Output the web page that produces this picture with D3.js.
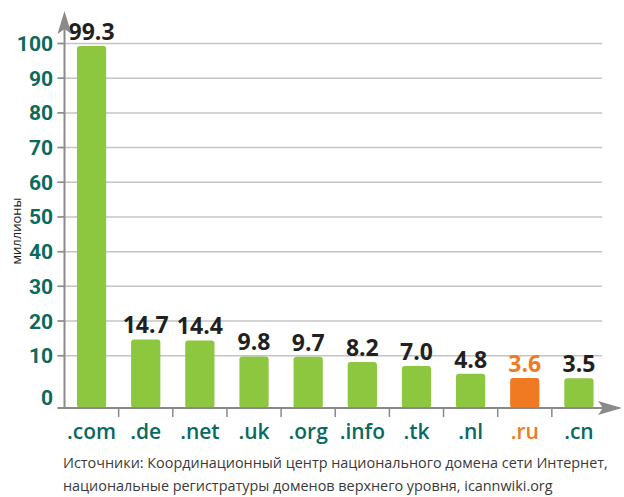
<!DOCTYPE html>
<html>
<head>
<meta charset="utf-8">
<script src="https://cdn.jsdelivr.net/npm/d3@7"></script>
<style>
  body { margin: 0; background: #fff; }
  svg { display: block; }
</style>
</head>
<body>
<div id="chart"></div>
<script>
// data
var domains = [".com", ".de", ".net", ".uk", ".org", ".info", ".tk", ".nl", ".ru", ".cn"];
var values = [99.3, 14.7, 14.4, 9.8, 9.7, 8.2, 7.0, 4.8, 3.6, 3.5];
var yTicks = [0, 10, 20, 30, 40, 50, 60, 70, 80, 90, 100];
var highlight = ".ru";
var yTitle = "миллионы";
var sourceLines = [
  "Источники: Координационный центр национального домена сети Интернет,",
  "национальные регистратуры доменов верхнего уровня, icannwiki.org"
];

var width = 624, height = 497;
var axisX = 64.5, axisY = 408;

var green = "#8dc63f", orange = "#f07a22", teal = "#0b6a5e", grey = "#8a8a8a";

var svg = d3.select("#chart")
  .append("svg")
  .attr("width", width)
  .attr("height", height);

var x = d3.scaleBand()
  .domain(domains)
  .range([axisX, 606])
  .paddingInner(0.46)
  .paddingOuter(0.23);

var y = d3.scaleLinear()
  .domain([0, 100])
  .range([390.4, 43.5]);

// gridlines (no line at 0)
svg.append("g")
  .selectAll("line")
  .data(yTicks.filter(function (d) { return d > 0; }))
  .enter()
  .append("line")
  .attr("x1", axisX - 7)
  .attr("x2", 602)
  .attr("y1", function (d) { return y(d); })
  .attr("y2", function (d) { return y(d); })
  .attr("stroke", "#c4c4c4")
  .attr("stroke-width", 1.5);

// grid tick stubs left of axis, darker
svg.append("g")
  .selectAll("line")
  .data(yTicks.filter(function (d) { return d > 0; }))
  .enter()
  .append("line")
  .attr("x1", axisX - 7)
  .attr("x2", axisX)
  .attr("y1", function (d) { return y(d); })
  .attr("y2", function (d) { return y(d); })
  .attr("stroke", grey)
  .attr("stroke-width", 1.5);

// y tick labels
svg.append("g")
  .selectAll("text")
  .data(yTicks)
  .enter()
  .append("text")
  .attr("x", 53)
  .attr("y", function (d) { return d == 0 ? 405 : y(d) + 7.5; })
  .attr("text-anchor", "end")
  .style("font-family", "Roboto, 'Open Sans', sans-serif")
  .style("font-weight", "bold")
  .style("font-size", "21px")
  .style("fill", teal)
  .text(function (d) { return d; });

// bars go down to the axis line
svg.append("g")
  .selectAll("rect")
  .data(values)
  .enter()
  .append("rect")
  .attr("x", function (d, i) { return x(domains[i]); })
  .attr("width", x.bandwidth())
  .attr("y", function (d) { return y(d); })
  .attr("height", function (d) { return axisY - y(d); })
  .attr("rx", 3)
  .attr("fill", function (d, i) { return domains[i] == highlight ? orange : green; });

// value labels
svg.append("g")
  .selectAll("text")
  .data(values)
  .enter()
  .append("text")
  .attr("x", function (d, i) { return x(domains[i]) + x.bandwidth() / 2; })
  .attr("y", function (d) { return y(d) - 6; })
  .attr("text-anchor", "middle")
  .style("font-family", "'Open Sans', Roboto, sans-serif")
  .style("font-weight", "bold")
  .style("font-size", "23px")
  .style("fill", function (d, i) { return domains[i] == highlight ? orange : "#231f20"; })
  .text(function (d) { return d.toFixed(1); });

// x axis line + arrow
svg.append("line")
  .attr("x1", axisX - 7).attr("x2", 604)
  .attr("y1", axisY).attr("y2", axisY)
  .attr("stroke", grey).attr("stroke-width", 2);
svg.append("path")
  .attr("d", "M598," + (axisY - 7) + " L622," + axisY + " L598," + (axisY + 7) + " L603," + axisY + " Z")
  .attr("fill", grey);

// tick marks between bars
svg.append("g")
  .selectAll("line")
  .data(domains.slice(1))
  .enter()
  .append("line")
  .attr("x1", function (d) { return x(d) - x.step() * x.paddingInner() / 2; })
  .attr("x2", function (d) { return x(d) - x.step() * x.paddingInner() / 2; })
  .attr("y1", axisY)
  .attr("y2", axisY + 9)
  .attr("stroke", grey)
  .attr("stroke-width", 1.5);

// y axis line + arrow
svg.append("line")
  .attr("x1", axisX).attr("x2", axisX)
  .attr("y1", axisY).attr("y2", 28)
  .attr("stroke", grey).attr("stroke-width", 2);
svg.append("path")
  .attr("d", "M" + (axisX - 7) + ",34 L" + axisX + ",11 L" + (axisX + 7) + ",34 L" + axisX + ",29 Z")
  .attr("fill", grey);

// category labels
svg.append("g")
  .selectAll("text")
  .data(domains)
  .enter()
  .append("text")
  .attr("x", function (d) { return x(d) + x.bandwidth() / 2; })
  .attr("y", 439)
  .attr("text-anchor", "middle")
  .style("font-family", "'Open Sans', Roboto, sans-serif")
  .style("font-weight", "600")
  .style("font-size", "21px")
  .style("fill", function (d) { return d == highlight ? orange : teal; })
  .text(function (d) { return d; });

// y title
svg.append("text")
  .attr("transform", "translate(21,231) rotate(-90)")
  .attr("text-anchor", "middle")
  .style("font-family", "'Open Sans', sans-serif")
  .style("font-size", "13px")
  .style("fill", "#231f20")
  .text(yTitle);

// source note
svg.append("g")
  .selectAll("text")
  .data(sourceLines)
  .enter()
  .append("text")
  .attr("x", 63)
  .attr("y", function (d, i) { return 468 + i * 23; })
  .style("font-family", "'Open Sans', sans-serif")
  .style("font-size", "14.4px")
  .style("fill", "#3a3a3a")
  .text(function (d) { return d; });
</script>
</body>
</html>
